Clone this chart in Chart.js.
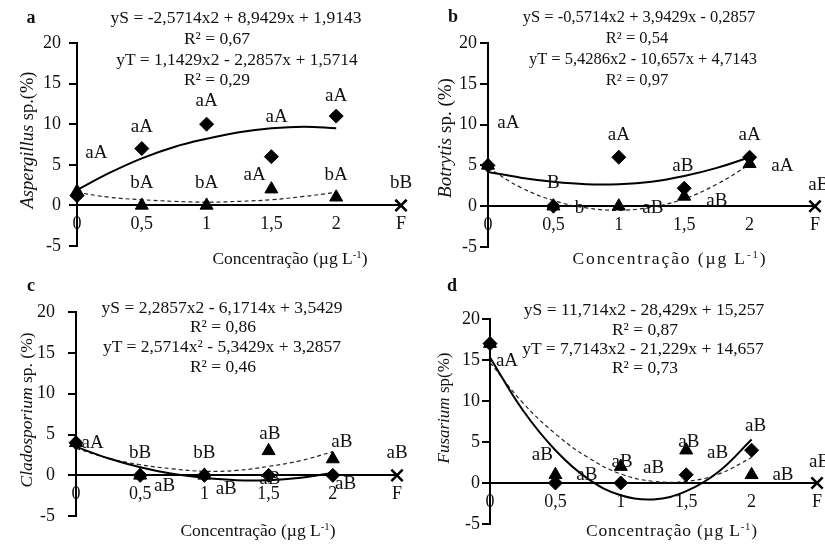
<!DOCTYPE html>
<html>
<head>
<meta charset="utf-8">
<script src="https://cdn.jsdelivr.net/npm/chart.js@4.4.1/dist/chart.umd.min.js"></script>
<style>
  body { margin: 0; width: 825px; height: 547px; overflow: hidden; position: relative; background: #fff;
         font-family: "Liberation Serif", "Times New Roman", serif; color: #111; }
  canvas { position: absolute; }
  .t { position: absolute; white-space: nowrap; line-height: 1; transform: translate(-50%, -50%); font-size: 17.5px; }
  .letter { font-weight: bold; font-size: 18px; }
  .ytitle { transform: translate(-50%, -50%) rotate(-90deg); font-size: 18px; }
  .xtitle sup { font-size: 0.62em; vertical-align: 0.55em; }
</style>
</head>
<body>

<canvas id="chartA"></canvas>
<canvas id="chartB"></canvas>
<canvas id="chartC"></canvas>
<canvas id="chartD"></canvas>

<!-- panel letters -->
<div class="t letter" style="left:31px;top:17px">a</div>
<div class="t letter" style="left:453px;top:16px">b</div>
<div class="t letter" style="left:31px;top:285px">c</div>
<div class="t letter" style="left:452px;top:285px">d</div>

<!-- regression equations -->
<div class="t" style="left:236px;top:18px">yS = -2,5714x2 + 8,9429x + 1,9143</div>
<div class="t" style="left:217px;top:39px">R² = 0,67</div>
<div class="t" style="left:237px;top:60px">yT = 1,1429x2 - 2,2857x + 1,5714</div>
<div class="t" style="left:217px;top:80px">R² = 0,29</div>

<div class="t" style="left:639px;top:17px;font-size:16.5px">yS = -0,5714x2 + 3,9429x - 0,2857</div>
<div class="t" style="left:637px;top:38px;font-size:16.5px">R² = 0,54</div>
<div class="t" style="left:643px;top:59px;font-size:16.5px">yT = 5,4286x2 - 10,657x + 4,7143</div>
<div class="t" style="left:637px;top:80px;font-size:16.5px">R² = 0,97</div>

<div class="t" style="left:222px;top:308px">yS = 2,2857x2 - 6,1714x + 3,5429</div>
<div class="t" style="left:223px;top:327px">R² = 0,86</div>
<div class="t" style="left:222px;top:347px">yT = 2,5714x² - 5,3429x + 3,2857</div>
<div class="t" style="left:223px;top:367px">R² = 0,46</div>

<div class="t" style="left:644px;top:310px">yS = 11,714x2 - 28,429x + 15,257</div>
<div class="t" style="left:645px;top:330px">R² = 0,87</div>
<div class="t" style="left:643px;top:349px">yT = 7,7143x2 - 21,229x + 14,657</div>
<div class="t" style="left:645px;top:368px">R² = 0,73</div>

<!-- axis titles -->
<div class="t ytitle" style="left:27px;top:140px;font-size:18.5px"><i>Aspergillus</i> sp.(%)</div>
<div class="t ytitle" style="left:444px;top:138px;font-size:19px"><i>Botrytis</i> sp. (%)</div>
<div class="t ytitle" style="left:27px;top:410px;font-size:17.5px"><i>Cladosporium</i> sp. (%)</div>
<div class="t ytitle" style="left:443px;top:408px;font-size:17px"><i>Fusarium</i> sp(%)</div>

<div class="t xtitle" style="left:290px;top:258px">Concentração (µg L<sup>-1</sup>)</div>
<div class="t xtitle" style="left:670px;top:258px;letter-spacing:1.9px">Concentração (µg L<sup>-1</sup>)</div>
<div class="t xtitle" style="left:258px;top:530px">Concentração (µg L<sup>-1</sup>)</div>
<div class="t xtitle" style="left:672px;top:530px;letter-spacing:0.8px">Concentração (µg L<sup>-1</sup>)</div>

<script>
// shared axes
const xTickLabels = ['0', '0,5', '1', '1,5', '2', 'F'];
const yTickLabels = ['-5', '0', '5', '10', '15', '20'];
const doses = [0, 0.5, 1, 1.5, 2];
const fungicideX = 2.5;   // the "F" category, one step after 2
const fitX = [0, 0.25, 0.5, 0.75, 1, 1.25, 1.5, 1.75, 2];

// a - Aspergillus
const aspS = [1.2, 7, 10, 6, 11];
const aspT = [1.7, 0, 0, 2, 1];
const aspF = 0;
const aspFitS = [1.9, 4.0, 5.8, 7.2, 8.2, 9.0, 9.5, 9.7, 9.5];
const aspFitT = [1.6, 1.0, 0.7, 0.5, 0.4, 0.5, 0.7, 1.1, 1.6];
const aspLetters = [
  [0.15, 6.4, 'aA'], [0.5, 9.6, 'aA'], [1, 12.9, 'aA'], [1.54, 10.9, 'aA'], [2, 13.5, 'aA'],
  [0.5, 2.7, 'bA'], [1, 2.7, 'bA'], [1.37, 3.8, 'aA'], [2, 3.8, 'bA'], [2.5, 2.7, 'bB']
];

// b - Botrytis
const botS = [5, 0, 6, 2.2, 6];
const botT = [5, 0, 0, 1.2, 5.2];
const botF = 0;
const botFitS = [4.2, 3.5, 3.0, 2.7, 2.7, 3.0, 3.7, 4.7, 6.0];
const botFitT = [4.7, 2.3, 0.7, -0.2, -0.5, -0.1, 0.9, 2.7, 5.1];
const botLetters = [
  [0.155, 10.2, 'aA'], [0.5, 2.8, 'B'], [0.7, -0.2, 'b'], [1, 8.7, 'aA'], [1.26, -0.2, 'aB'],
  [1.49, 4.9, 'aB'], [1.75, 0.6, 'aB'], [2, 8.7, 'aA'], [2.25, 4.9, 'aA'], [2.53, 2.6, 'aB']
];

// c - Cladosporium
const claS = [4, 0, 0, 0, 0];
const claT = [4, 0, 0, 3, 2];
const claF = 0;
const claFitS = [3.5, 2.1, 1.0, 0.2, -0.3, -0.6, -0.6, -0.3, 0.3];
const claFitT = [3.3, 2.1, 1.3, 0.8, 0.5, 0.6, 1.1, 1.8, 2.9];
const claLetters = [
  [0.13, 3.9, 'aA'], [0.5, 2.7, 'bB'], [1, 2.7, 'bB'], [1.51, 5.1, 'aB'], [2.07, 4.1, 'aB'], [2.5, 2.7, 'aB'],
  [0.69, -1.3, 'aB'], [1.17, -1.7, 'aB'], [1.51, -0.5, 'aB'], [2.1, -1.1, 'aB']
];

// d - Fusarium
const fusS = [17, 0, 0, 1, 4];
const fusT = [17, 1, 2, 4, 1];
const fusF = 0;
const fusFitS = [15.3, 8.9, 4.0, 0.5, -1.5, -2.0, -1.0, 1.4, 5.3];
const fusFitT = [14.7, 9.8, 6.0, 3.1, 1.1, 0.2, 0.2, 1.1, 3.1];
const fusLetters = [
  [0.13, 14.9, 'aA'], [0.4, 3.4, 'aB'], [0.74, 1.0, 'aB'], [1.01, 2.6, 'aB'], [1.25, 1.8, 'aB'],
  [1.52, 5.0, 'aB'], [1.74, 3.6, 'aB'], [2.03, 6.9, 'aB'], [2.24, 1.0, 'aB'], [2.52, 2.6, 'aB']
];

// where each plot area sits on the page
const panels = [
  { id: 'chartA', box: { left: 77, right: 401, top: 43, bottom: 246 }, tickPad: 8,
    s: aspS, t: aspT, f: aspF, fitS: aspFitS, fitT: aspFitT, letters: aspLetters },
  { id: 'chartB', box: { left: 488, right: 815, top: 43, bottom: 247 }, tickPad: 3,
    s: botS, t: botT, f: botF, fitS: botFitS, fitT: botFitT, letters: botLetters },
  { id: 'chartC', box: { left: 76, right: 397, top: 312, bottom: 520 }, tickPad: 13,
    s: claS, t: claT, f: claF, fitS: claFitS, fitT: claFitT, letters: claLetters },
  { id: 'chartD', box: { left: 490, right: 817, top: 319, bottom: 524 }, tickPad: 2,
    s: fusS, t: fusT, f: fusF, fitS: fusFitS, fitT: fusFitT, letters: fusLetters }
];

const FONT = 'Liberation Serif';
const AXIS_W = 60, PAD_T = 25, PAD_R = 30, PAD_B = 20;

// the little significance letters next to the points
const lettersPlugin = {
  id: 'letters',
  afterDatasetsDraw(chart, args, opts) {
    const { ctx, scales } = chart;
    ctx.save();
    ctx.font = '19px "' + FONT + '"';
    ctx.fillStyle = '#111';
    ctx.textAlign = 'center';
    ctx.textBaseline = 'middle';
    opts.items.forEach(([x, y, txt]) => {
      ctx.fillText(txt, scales.x.getPixelForValue(x), scales.y.getPixelForValue(y));
    });
    ctx.restore();
  }
};

function pts(xs, ys) {
  return xs.map((x, i) => ({ x: x, y: ys[i] }));
}

panels.forEach(p => {
  const cv = document.getElementById(p.id);
  const w = p.box.right - p.box.left + AXIS_W + PAD_R;
  const h = p.box.bottom - p.box.top + PAD_T + PAD_B;
  cv.width = w; cv.height = h;
  cv.style.width = w + 'px'; cv.style.height = h + 'px';
  cv.style.left = (p.box.left - AXIS_W) + 'px';
  cv.style.top = (p.box.top - PAD_T) + 'px';

  new Chart(cv, {
    type: 'scatter',
    data: {
      datasets: [
        { data: pts(doses, p.s), pointStyle: 'rectRot', pointRadius: 7,
          backgroundColor: '#000', borderColor: '#000', clip: false },
        { data: pts(doses, p.t), pointStyle: 'triangle', pointRadius: 7.5,
          backgroundColor: '#000', borderColor: '#000', clip: false },
        { data: [{ x: fungicideX, y: p.f }], pointStyle: 'crossRot', pointRadius: 8,
          borderWidth: 2.5, borderColor: '#000', clip: false },
        { data: pts(fitX, p.fitS), showLine: true, tension: 0.4, pointRadius: 0,
          borderColor: '#000', borderWidth: 2 },
        { data: pts(fitX, p.fitT), showLine: true, tension: 0.4, pointRadius: 0,
          borderColor: '#222', borderWidth: 1.2, borderDash: [4, 3] }
      ]
    },
    options: {
      responsive: false,
      animation: false,
      events: [],
      layout: { padding: { left: 0, top: PAD_T, right: PAD_R, bottom: PAD_B } },
      plugins: {
        legend: { display: false },
        tooltip: { enabled: false },
        letters: { items: p.letters }
      },
      scales: {
        x: {
          type: 'linear', min: 0, max: 2.5, position: { y: 0 },
          grid: { display: false, drawTicks: false },
          border: { color: '#000', width: 2 },
          ticks: {
            stepSize: 0.5, autoSkip: false, maxRotation: 0, padding: 8,
            color: '#111', font: { family: FONT, size: 18 },
            callback: (v, i) => xTickLabels[i]
          }
        },
        y: {
          min: -5, max: 20,
          grid: { drawOnChartArea: false, drawTicks: true, tickLength: 8, color: '#000', lineWidth: 2 },
          border: { color: '#000', width: 2 },
          ticks: {
            stepSize: 5, padding: p.tickPad,
            color: '#111', font: { family: FONT, size: 18 },
            callback: (v, i) => yTickLabels[i]
          },
          afterFit(scale) { scale.width = AXIS_W; }
        }
      }
    },
    plugins: [lettersPlugin]
  });
});
</script>
</body>
</html>
